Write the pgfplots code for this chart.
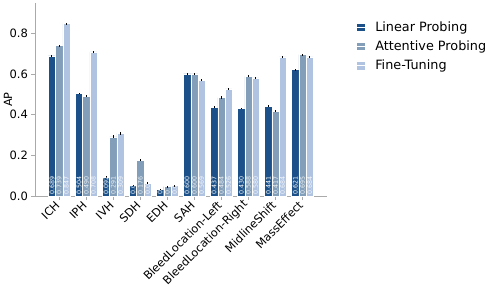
\documentclass[border=0pt]{standalone}
\usepackage{pgfplots}
\usepackage{pgfplotstable}
\usepackage{fontspec}
\setmainfont{DejaVu Sans}
\pgfplotsset{compat=1.18}
\definecolor{c1}{HTML}{1B5188}
\definecolor{c2}{HTML}{829EB9}
\definecolor{c3}{HTML}{B0C4E2}
\definecolor{spine}{HTML}{AAAAAA}

\pgfplotstableread{
x lp lpe ap ape ft fte lpl apl ftl
0 0.689 0.004 0.739 0.004 0.847 0.003 0.689 0.739 0.847
1 0.504 0.004 0.490 0.005 0.708 0.004 0.504 0.490 0.708
2 0.092 0.004 0.291 0.007 0.309 0.007 0.092 0.291 0.309
3 0.053 0.003 0.176 0.006 0.063 0.004 0.0 0.176 0.0
4 0.033 0.002 0.046 0.003 0.051 0.003 0. 0. 0.0
5 0.600 0.004 0.600 0.006 0.569 0.005 0.600 0.600 0.569
6 0.437 0.005 0.484 0.006 0.526 0.005 0.437 0.484 0.526
7 0.430 0.004 0.588 0.005 0.580 0.005 0.430 0.588 0.580
8 0.441 0.005 0.417 0.006 0.684 0.006 0.441 0.417 0.684
9 0.621 0.005 0.695 0.005 0.684 0.004 0.621 0.695 0.684
}\data

\begin{document}
\begin{tikzpicture}
\begin{axis}[
  scale only axis,
  width=291.7pt, height=192.7pt,
  xmin=-0.895, xmax=9.895,
  ymin=0, ymax=0.947,
  axis lines*=left,
  axis line style={spine, line width=0.8pt, -},
  tick style={spine, line width=0.8pt},
  tick align=outside,
  major tick length=3.5pt,
  xtick={0,...,9},
  xticklabels={ICH,IPH,IVH,SDH,EDH,SAH,BleedLocation-Left,BleedLocation-Right,MidlineShift,MassEffect},
  xticklabel style={yshift=-7pt, xshift=3pt, rotate=45, anchor=south east, font=\fontsize{11.3}{13}\selectfont, inner sep=1pt},
  ytick={0,0.2,0.4,0.6,0.8},
  yticklabel style={/pgf/number format/fixed, /pgf/number format/fixed zerofill, /pgf/number format/precision=1, font=\fontsize{11.5}{13}\selectfont},
  /pgf/number format/assume math mode=true,
  bar width=0.2667,
  legend style={draw=none, fill=none, at={(rel axis cs:1,1)}, anchor=north west, xshift=26pt, yshift=-14pt, font=\fontsize{12.8}{15}\selectfont, row sep=4pt, cells={anchor=west}},
  legend image code/.code={\fill[#1] (0pt,-4.3pt) rectangle (8.6pt,4.3pt); \path (0pt,0pt) -- (17pt,0pt);},
  clip=false,
]
\coordinate (O) at (rel axis cs:0,0);
\addplot[ybar, bar shift=-0.2667, fill=c1, draw=white, line width=0.4pt] table[x=x, y=lp] {\data};
\addlegendentry{Linear Probing}
\addplot[ybar, bar shift=0, fill=c2, draw=white, line width=0.4pt] table[x=x, y=ap] {\data};
\addlegendentry{Attentive Probing}
\addplot[ybar, bar shift=0.2667, fill=c3, draw=white, line width=0.4pt] table[x=x, y=ft] {\data};
\addlegendentry{Fine-Tuning}

\addplot[forget plot, draw=none, mark=none, error bars/.cd, y dir=both, y explicit, error mark=none, error bar style={black, line width=1pt}]
  table[x expr=\thisrow{x}-0.2667, y=lp, y error=lpe] {\data};
\addplot[forget plot, draw=none, mark=none, error bars/.cd, y dir=both, y explicit, error mark=none, error bar style={black, line width=1pt}]
  table[x expr=\thisrow{x}, y=ap, y error=ape] {\data};
\addplot[forget plot, draw=none, mark=none, error bars/.cd, y dir=both, y explicit, error mark=none, error bar style={black, line width=1pt}]
  table[x expr=\thisrow{x}+0.2667, y=ft, y error=fte] {\data};

\addplot[forget plot, draw=none, mark=none, nodes near coords, point meta=explicit symbolic,
  nodes near coords style={anchor=west, rotate=90, inner sep=0pt, text=white, font=\fontsize{6.3}{7}\selectfont}]
  table[x expr=\thisrow{x}-0.2667, y expr=0.008, meta=lpl] {\data};
\addplot[forget plot, draw=none, mark=none, nodes near coords, point meta=explicit symbolic,
  nodes near coords style={anchor=west, rotate=90, inner sep=0pt, text=white, text opacity=0.85, font=\fontsize{6.3}{7}\selectfont}]
  table[x expr=\thisrow{x}, y expr=0.008, meta=apl] {\data};
\addplot[forget plot, draw=none, mark=none, nodes near coords, point meta=explicit symbolic,
  nodes near coords style={anchor=west, rotate=90, inner sep=0pt, text=white, text opacity=0.85, font=\fontsize{6.3}{7}\selectfont}]
  table[x expr=\thisrow{x}+0.2667, y expr=0.008, meta=ftl] {\data};
\path (rel axis cs:0,0.5) ++(-27pt,0pt) node[rotate=90, font=\fontsize{11.3}{13}\selectfont] {AP};
\end{axis}
\pgfresetboundingbox
\path[use as bounding box] (O) ++(-35pt,-91pt) rectangle ++(498pt,287pt);
\end{tikzpicture}
\end{document}
